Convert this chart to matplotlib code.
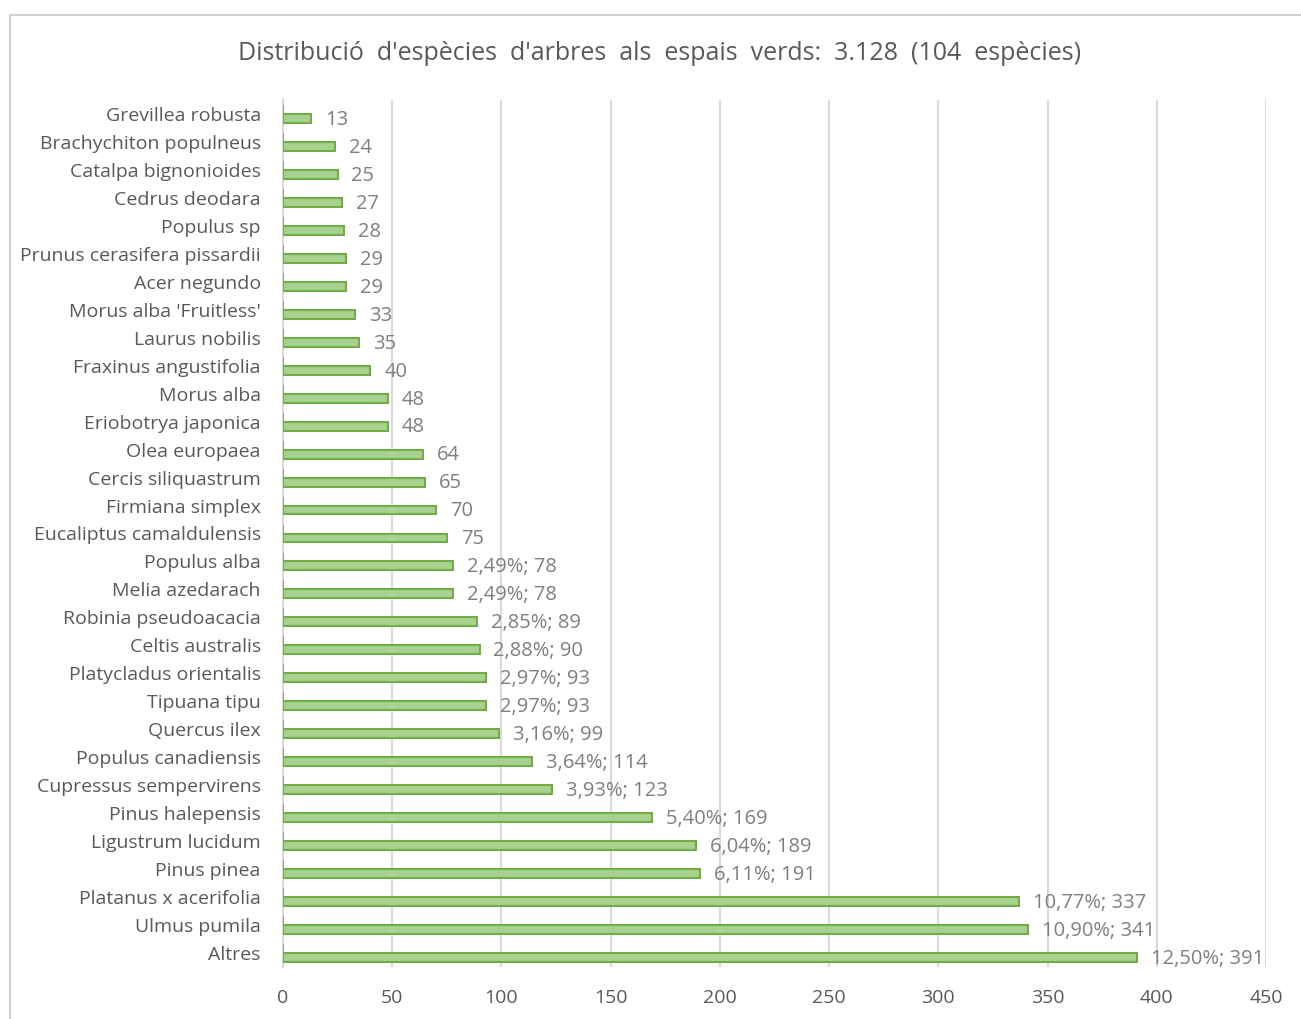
import matplotlib.pyplot as plt
from matplotlib.patches import Rectangle

species = ["Grevillea robusta", "Brachychiton populneus", "Catalpa bignonioides",
           "Cedrus deodara", "Populus sp", "Prunus cerasifera pissardii",
           "Acer negundo", "Morus alba 'Fruitless'", "Laurus nobilis",
           "Fraxinus angustifolia", "Morus alba", "Eriobotrya japonica",
           "Olea europaea", "Cercis siliquastrum", "Firmiana simplex",
           "Eucaliptus camaldulensis", "Populus alba", "Melia azedarach",
           "Robinia pseudoacacia", "Celtis australis", "Platycladus orientalis",
           "Tipuana tipu", "Quercus ilex", "Populus canadiensis",
           "Cupressus sempervirens", "Pinus halepensis", "Ligustrum lucidum",
           "Pinus pinea", "Platanus x acerifolia", "Ulmus pumila", "Altres"]
counts = [13, 24, 25, 27, 28, 29, 29, 33, 35, 40, 48, 48, 64, 65, 70, 75,
          78, 78, 89, 90, 93, 93, 99, 114, 123, 169, 189, 191, 337, 341, 391]
total = 3128
xticks = [0, 50, 100, 150, 200, 250, 300, 350, 400, 450]

# second series in the sheet: share of total (nearly invisible at this scale)
shares = [c / total for c in counts]

W, H = 1301, 1019
fig = plt.figure(figsize=(W / 100, H / 100), dpi=100)
fig.patches.append(Rectangle((10 / W, -0.1), 1.2, 1 - 15 / H + 0.1,
                             transform=fig.transFigure, fill=False,
                             edgecolor="#d0d0d0", linewidth=1.5))

ax = fig.add_axes([283 / W, 1 - 967 / H, (1266 - 283) / W, (967 - 100) / H])
ypos = list(range(len(species)))
h = 0.32
ax.barh([y - h / 2 for y in ypos], shares, height=h, color="#5b9bd5",
        edgecolor="#5b9bd5", linewidth=1.2, zorder=3)
ax.barh([y + h / 2 for y in ypos], counts, height=h, color="#a9d18e",
        edgecolor="#70ad47", linewidth=1.5, zorder=3)

for y, v in zip(ypos, counts):
    if v >= 78:
        pct = f"{v / total * 100:.2f}".replace(".", ",")
        txt = f"{pct}%; {v}"
    else:
        txt = str(v)
    ax.annotate(txt, (v, y + h / 2), xytext=(10, -1), textcoords="offset points",
                va="center", ha="left", fontsize=14.5, color="#7f7f7f",
                family="Open Sans")

ax.set_xlim(0, 450)
ax.set_ylim(len(species) - 0.5, -0.5)
ax.set_xticks(xticks)
ax.set_yticks(ypos)
ax.set_yticklabels(species)
ax.grid(axis="x", color="#d9d9d9", linewidth=1.5, zorder=0)
for s in ["top", "right", "bottom"]:
    ax.spines[s].set_visible(False)
ax.spines["left"].set_color("#d9d9d9")
ax.spines["left"].set_linewidth(1.5)
ax.tick_params(length=0, labelsize=14, labelcolor="#595959")
ax.tick_params(axis="y", pad=16)
ax.tick_params(axis="x", pad=16)
for lab in ax.get_xticklabels() + ax.get_yticklabels():
    lab.set_family("Open Sans")

fig.text(660 / W, 1 - 54 / H, "Distribució  d'espècies  d'arbres  als  espais  verds:  3.128  (104  espècies)",
         ha="center", va="center", fontsize=18, color="#595959", family="Open Sans")

fig.savefig("out.png", dpi=100)
